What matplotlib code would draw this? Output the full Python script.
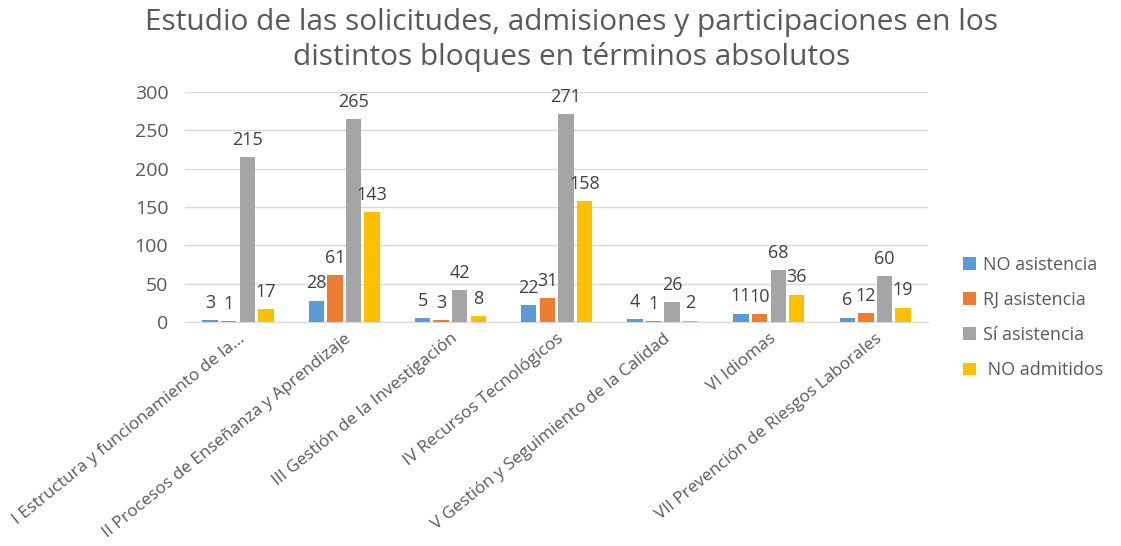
import matplotlib
matplotlib.use("Agg")
import matplotlib.pyplot as plt
import numpy as np

categories = ["I Estructura y funcionamiento de la...",
              "II Procesos de Enseñanza y Aprendizaje",
              "III Gestión de la Investigación",
              "IV Recursos Tecnológicos",
              "V Gestión y Seguimiento de la Calidad",
              "VI Idiomas",
              "VII Prevención de Riesgos Laborales"]
series_names = ["NO asistencia", "RJ asistencia", "Sí asistencia", " NO admitidos"]
no_asistencia = [3, 28, 5, 22, 4, 11, 6]
rj_asistencia = [1, 61, 3, 31, 1, 10, 12]
si_asistencia = [215, 265, 42, 271, 26, 68, 60]
no_admitidos = [17, 143, 8, 158, 2, 36, 19]
yticks = [0, 50, 100, 150, 200, 250, 300]

colors = ["#5B9BD5", "#ED7D31", "#A5A5A5", "#FFC000"]
txt = "#595959"
plt.rcParams['font.family'] = ['Open Sans', 'DejaVu Sans']

fig = plt.figure(figsize=(11.21, 5.46), dpi=100)
ax = fig.add_axes([0.165, 0.41, 0.663, 0.4215])

x = np.arange(len(categories))
bw = 0.145
step = 0.175
data = [no_asistencia, rj_asistencia, si_asistencia, no_admitidos]
for i, (vals, c, name) in enumerate(zip(data, colors, series_names)):
    pos = x + (i - 1.5) * step
    bars = ax.bar(pos, vals, bw, color=c, label=name, zorder=3)
    for p, v in zip(pos, vals):
        ax.annotate(str(v), (p, v), xytext=(0, 6), textcoords="offset points",
                    ha="center", va="bottom", fontsize=13, color="#404040")

ax.set_xlim(-0.5, len(categories) - 0.5)
ax.set_ylim(0, 300)
ax.set_yticks(yticks)
ax.yaxis.grid(True, color="#D9D9D9", linewidth=1, zorder=0)
for s in ["top", "right", "left"]:
    ax.spines[s].set_visible(False)
ax.spines["bottom"].set_color("#D9D9D9")
ax.tick_params(axis="both", length=0, colors=txt, labelsize=14)
ax.tick_params(axis="y", pad=12)
ax.tick_params(axis="x", pad=6)
ax.set_xticks(x)
ax.set_xticklabels(categories, rotation=39, ha="right", rotation_mode="anchor",
                   fontsize=12.3, color=txt)

fig.suptitle("Estudio de las solicitudes, admisiones y participaciones en los\ndistintos bloques en términos absolutos",
             x=0.51, y=0.985, fontsize=21.5, color=txt, linespacing=1.2)

leg = ax.legend(loc="center left", bbox_to_anchor=(1.025, 0.02), frameon=False,
                fontsize=13, labelcolor=txt, handlelength=0.7, handleheight=0.7,
                labelspacing=0.95, handletextpad=0.4)

fig.savefig("out.png", dpi=100)
